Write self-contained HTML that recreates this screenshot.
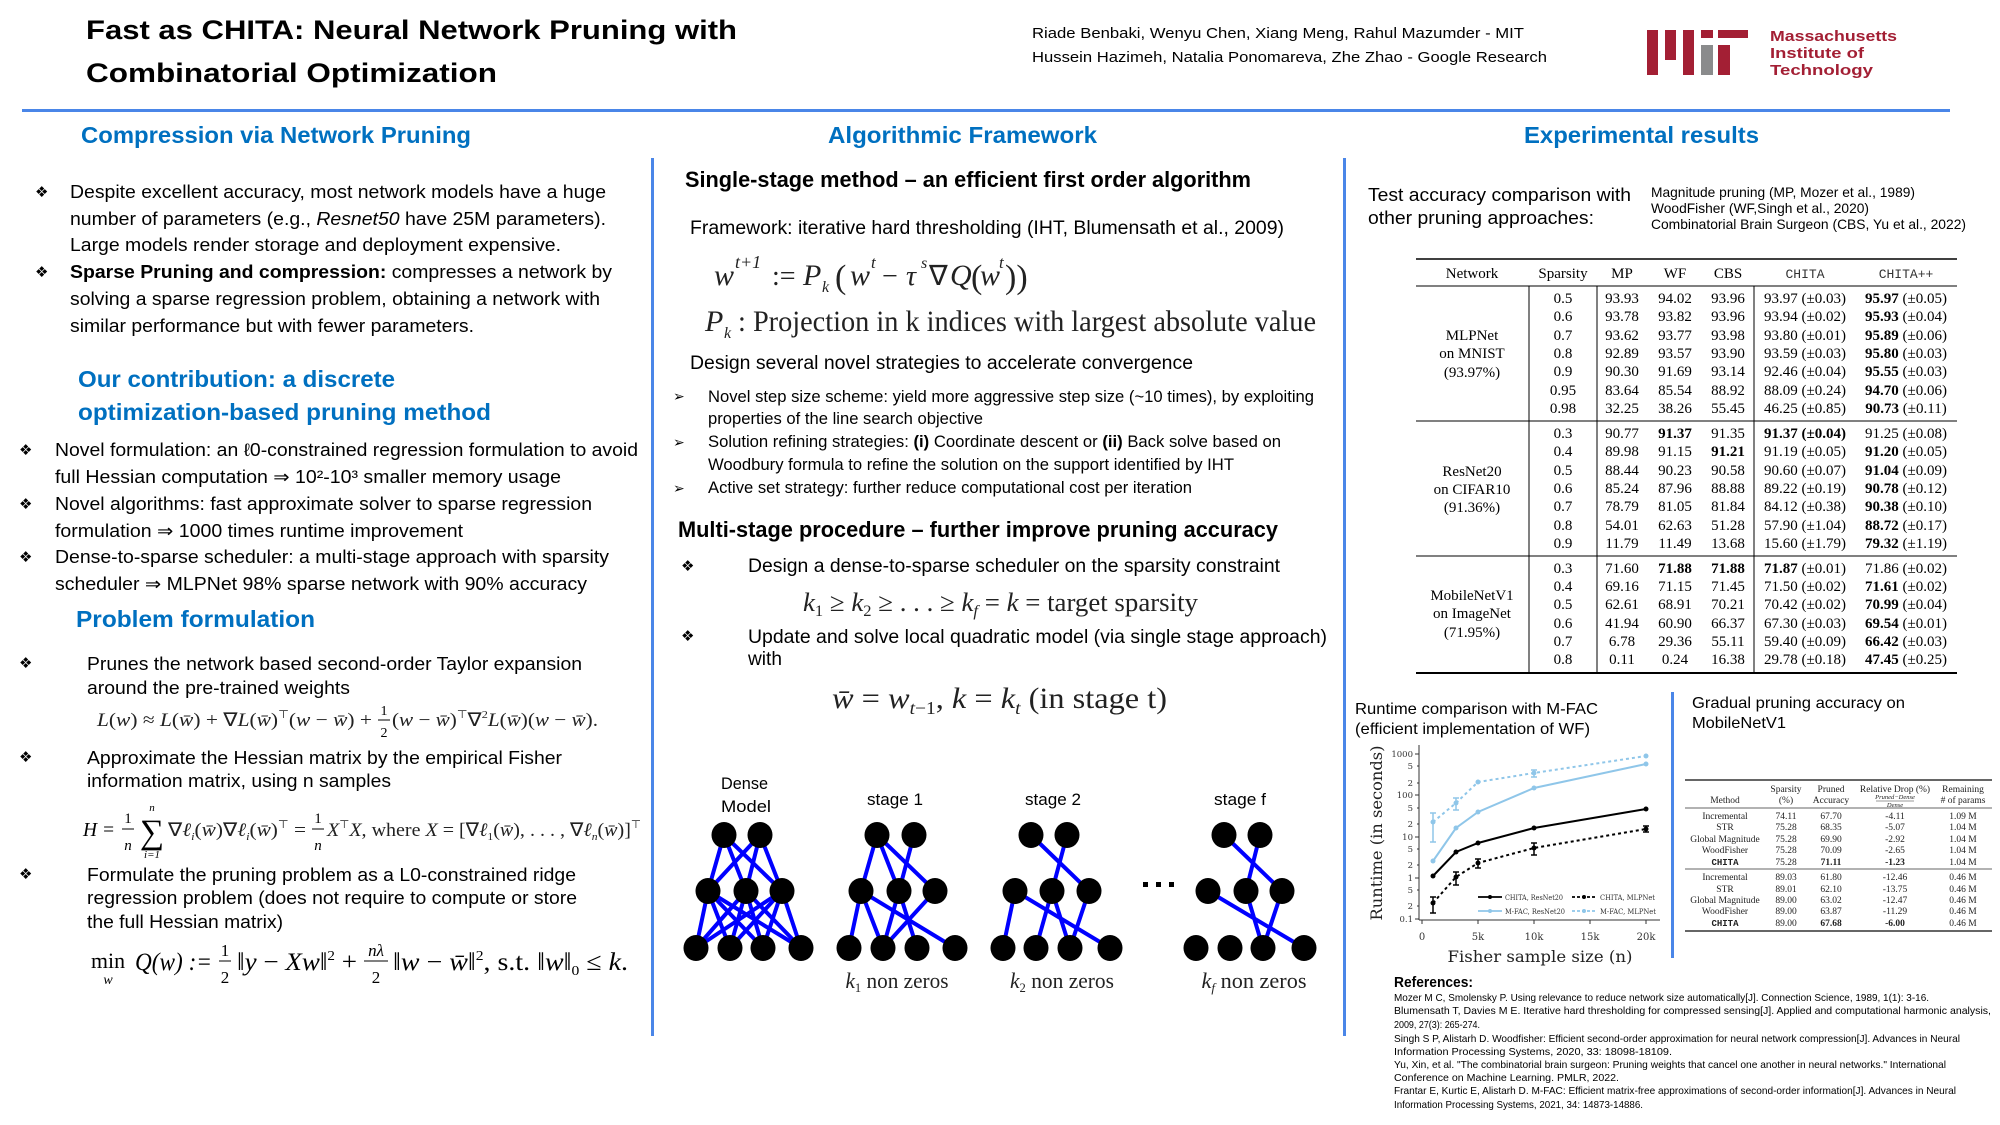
<!DOCTYPE html>
<html><head><meta charset="utf-8"><style>
html,body{margin:0;padding:0;background:#fff;}
svg{display:block}
.s{font-family:"Liberation Sans",sans-serif}
.sb{font-family:"Liberation Sans",sans-serif;font-weight:bold}
.h{font-family:"Liberation Sans",sans-serif;font-weight:bold;fill:#0070c0;font-size:23px}
.r{font-family:"Liberation Serif",serif}
.i{font-family:"Liberation Serif",serif;font-style:italic}
.d{font-family:"DejaVu Sans",sans-serif}
.mono{font-family:"Liberation Mono",monospace}
.ds{font-family:"DejaVu Serif",serif}
</style></head><body>
<svg xmlns="http://www.w3.org/2000/svg" width="2000" height="1125" viewBox="0 0 2000 1125">
<rect width="2000" height="1125" fill="#fff"/>

<!-- Title -->
<text class="sb" x="86" y="39" font-size="27" textLength="651" lengthAdjust="spacingAndGlyphs">Fast as CHITA: Neural Network Pruning with</text>
<text class="sb" x="86" y="82" font-size="27" textLength="411" lengthAdjust="spacingAndGlyphs">Combinatorial Optimization</text>
<text class="s" x="1032" y="38" font-size="15" textLength="492" lengthAdjust="spacingAndGlyphs">Riade Benbaki, Wenyu Chen, Xiang Meng, Rahul Mazumder - MIT</text>
<text class="s" x="1032" y="62" font-size="15" textLength="515" lengthAdjust="spacingAndGlyphs">Hussein Hazimeh, Natalia Ponomareva, Zhe Zhao - Google Research</text>

<!-- MIT logo -->
<g fill="#a31f34">
<rect x="1647" y="30" width="11" height="45"/>
<rect x="1665" y="30" width="11" height="30"/>
<rect x="1683" y="30" width="11" height="45"/>
<rect x="1701" y="30" width="12" height="8"/>
<rect x="1718" y="30" width="30" height="8"/>
<rect x="1718" y="45" width="12" height="30"/>
</g>
<rect x="1701" y="45" width="12" height="30" fill="#8a8b8c"/>
<text x="1770" y="41" font-family="Liberation Sans, Arial, sans-serif" font-weight="bold" font-size="15" fill="#a31f34" textLength="127" lengthAdjust="spacingAndGlyphs">Massachusetts</text>
<text x="1770" y="58" font-family="Liberation Sans, Arial, sans-serif" font-weight="bold" font-size="15" fill="#a31f34" textLength="94" lengthAdjust="spacingAndGlyphs">Institute of</text>
<text x="1770" y="75" font-family="Liberation Sans, Arial, sans-serif" font-weight="bold" font-size="15" fill="#a31f34" textLength="103" lengthAdjust="spacingAndGlyphs">Technology</text>

<!-- rules -->
<rect x="22" y="109" width="1928" height="3" fill="#4a86e8"/>
<rect x="651" y="158" width="3" height="878" fill="#4a86e8"/>
<rect x="1343" y="158" width="3" height="878" fill="#4a86e8"/>
<rect x="1671" y="692" width="3" height="266" fill="#4a86e8"/>

<!-- Section headings -->
<text class="h" x="81" y="143" textLength="390" lengthAdjust="spacingAndGlyphs">Compression via Network Pruning</text>
<text class="h" x="828" y="143" textLength="269" lengthAdjust="spacingAndGlyphs">Algorithmic Framework</text>
<text class="h" x="1524" y="143" textLength="235" lengthAdjust="spacingAndGlyphs">Experimental results</text>

<!-- LEFT COLUMN -->
<g class="d" font-size="15">
<text x="35" y="197">❖</text>
<text x="35" y="277">❖</text>
<text x="19" y="455">❖</text>
<text x="19" y="509">❖</text>
<text x="19" y="562">❖</text>
<text x="19" y="668">❖</text>
<text x="19" y="762">❖</text>
<text x="19" y="879">❖</text>
</g>
<g class="s" font-size="18">
<text x="70" y="198" textLength="536" lengthAdjust="spacingAndGlyphs">Despite excellent accuracy, most network models have a huge</text>
<text x="70" y="225" textLength="536" lengthAdjust="spacingAndGlyphs">number of parameters (e.g., <tspan font-style="italic">Resnet50</tspan> have 25M parameters).</text>
<text x="70" y="251" textLength="491" lengthAdjust="spacingAndGlyphs">Large models render storage and deployment expensive.</text>
<text x="70" y="278" textLength="542" lengthAdjust="spacingAndGlyphs"><tspan font-weight="bold">Sparse Pruning and compression:</tspan> compresses a network by</text>
<text x="70" y="305" textLength="530" lengthAdjust="spacingAndGlyphs">solving a sparse regression problem, obtaining a network with</text>
<text x="70" y="332" textLength="404" lengthAdjust="spacingAndGlyphs">similar performance but with fewer parameters.</text>
</g>
<text class="h" x="78" y="387" font-size="25" textLength="317" lengthAdjust="spacingAndGlyphs">Our contribution: a discrete</text>
<text class="h" x="78" y="420" font-size="25" textLength="413" lengthAdjust="spacingAndGlyphs">optimization-based pruning method</text>
<g class="s" font-size="18">
<text x="55" y="456" textLength="583" lengthAdjust="spacingAndGlyphs">Novel formulation: an ℓ0-constrained regression formulation to avoid</text>
<text x="55" y="483" textLength="506" lengthAdjust="spacingAndGlyphs">full Hessian computation ⇒ 10²-10³ smaller memory usage</text>
<text x="55" y="510" textLength="537" lengthAdjust="spacingAndGlyphs">Novel algorithms: fast approximate solver to sparse regression</text>
<text x="55" y="537" textLength="408" lengthAdjust="spacingAndGlyphs">formulation ⇒ 1000 times runtime improvement</text>
<text x="55" y="563" textLength="554" lengthAdjust="spacingAndGlyphs">Dense-to-sparse scheduler: a multi-stage approach with sparsity</text>
<text x="55" y="590" textLength="532" lengthAdjust="spacingAndGlyphs">scheduler ⇒ MLPNet 98% sparse network with 90% accuracy</text>
</g>
<text class="h" x="76" y="627" font-size="25" textLength="239" lengthAdjust="spacingAndGlyphs">Problem formulation</text>
<g class="s" font-size="18">
<text x="87" y="670" textLength="495" lengthAdjust="spacingAndGlyphs">Prunes the network based second-order Taylor expansion</text>
<text x="87" y="694" textLength="263" lengthAdjust="spacingAndGlyphs">around the pre-trained weights</text>
<text x="87" y="764" textLength="475" lengthAdjust="spacingAndGlyphs">Approximate the Hessian matrix by the empirical Fisher</text>
<text x="87" y="787" textLength="304" lengthAdjust="spacingAndGlyphs">information matrix, using n samples</text>
<text x="87" y="881" textLength="489" lengthAdjust="spacingAndGlyphs">Formulate the pruning problem as a L0-constrained ridge</text>
<text x="87" y="904" textLength="490" lengthAdjust="spacingAndGlyphs">regression problem (does not require to compute or store</text>
<text x="87" y="928" textLength="196" lengthAdjust="spacingAndGlyphs">the full Hessian matrix)</text>
</g>

<!-- Formula L -->
<text class="r" x="97" y="726" font-size="19" fill="#222" textLength="275" lengthAdjust="spacingAndGlyphs"><tspan class="i">L</tspan>(<tspan class="i">w</tspan>) ≈ <tspan class="i">L</tspan>(<tspan class="i">w̄</tspan>) + ∇<tspan class="i">L</tspan>(<tspan class="i">w̄</tspan>)<tspan dy="-8" font-size="11">⊤</tspan><tspan dy="8">(</tspan><tspan class="i">w</tspan> − <tspan class="i">w̄</tspan>) +</text>
<text class="r" x="384" y="715" font-size="14" text-anchor="middle">1</text>
<line x1="378" y1="720" x2="390" y2="720" stroke="#000" stroke-width="1"/>
<text class="r" x="384" y="737" font-size="14" text-anchor="middle">2</text>
<text class="r" x="392" y="726" font-size="19" fill="#222" textLength="206" lengthAdjust="spacingAndGlyphs">(<tspan class="i">w</tspan> − <tspan class="i">w̄</tspan>)<tspan dy="-8" font-size="11">⊤</tspan><tspan dy="8">∇</tspan><tspan dy="-8" font-size="11">2</tspan><tspan dy="8" class="i">L</tspan>(<tspan class="i">w̄</tspan>)(<tspan class="i">w</tspan> − <tspan class="i">w̄</tspan>).</text>

<!-- Formula H -->
<text class="i" x="83" y="836" font-size="20" textLength="32" lengthAdjust="spacingAndGlyphs">H <tspan class="r">=</tspan></text>
<text class="r" x="128" y="823" font-size="15" text-anchor="middle">1</text>
<line x1="122" y1="829" x2="134" y2="829" stroke="#000" stroke-width="1"/>
<text class="i" x="128" y="850" font-size="15" text-anchor="middle">n</text>
<text class="r" x="152" y="843" font-size="34" text-anchor="middle">∑</text>
<text class="i" x="152" y="811" font-size="11" text-anchor="middle">n</text>
<text class="i" x="152" y="858" font-size="11" text-anchor="middle">i<tspan class="r">=1</tspan></text>
<text class="r" x="168" y="836" font-size="19" fill="#222" textLength="138" lengthAdjust="spacingAndGlyphs">∇<tspan class="i">ℓ</tspan><tspan class="i" font-size="11" dy="4">i</tspan><tspan dy="-4">(</tspan><tspan class="i">w̄</tspan>)∇<tspan class="i">ℓ</tspan><tspan class="i" font-size="11" dy="4">i</tspan><tspan dy="-4">(</tspan><tspan class="i">w̄</tspan>)<tspan dy="-8" font-size="11">⊤</tspan><tspan dy="8"> =</tspan></text>
<text class="r" x="318" y="823" font-size="15" text-anchor="middle">1</text>
<line x1="312" y1="829" x2="324" y2="829" stroke="#000" stroke-width="1"/>
<text class="i" x="318" y="850" font-size="15" text-anchor="middle">n</text>
<text class="r" x="327" y="836" font-size="19" fill="#222" textLength="314" lengthAdjust="spacingAndGlyphs"><tspan class="i">X</tspan><tspan dy="-8" font-size="11">⊤</tspan><tspan dy="8" class="i">X</tspan>, where <tspan class="i">X</tspan> = [∇<tspan class="i">ℓ</tspan><tspan font-size="11" dy="4">1</tspan><tspan dy="-4">(</tspan><tspan class="i">w̄</tspan>), . . . , ∇<tspan class="i">ℓ</tspan><tspan class="i" font-size="11" dy="4">n</tspan><tspan dy="-4">(</tspan><tspan class="i">w̄</tspan>)]<tspan dy="-8" font-size="11">⊤</tspan></text>

<!-- Formula min -->
<text class="r" x="91" y="968" font-size="22" textLength="34" lengthAdjust="spacingAndGlyphs">min</text>
<text class="i" x="108" y="984" font-size="14" text-anchor="middle">w</text>
<text class="i" x="135" y="970" font-size="25" textLength="77" lengthAdjust="spacingAndGlyphs">Q<tspan class="r">(</tspan>w<tspan class="r">) :=</tspan></text>
<text class="r" x="225" y="956" font-size="17" text-anchor="middle">1</text>
<line x1="219" y1="961" x2="231" y2="961" stroke="#000" stroke-width="1"/>
<text class="r" x="225" y="983" font-size="17" text-anchor="middle">2</text>
<text class="r" x="237" y="970" font-size="25" textLength="120" lengthAdjust="spacingAndGlyphs">‖<tspan class="i">y</tspan> − <tspan class="i">Xw</tspan>‖<tspan dy="-10" font-size="14">2</tspan><tspan dy="10"> +</tspan></text>
<text class="i" x="376" y="956" font-size="17" text-anchor="middle">nλ</text>
<line x1="364" y1="961" x2="388" y2="961" stroke="#000" stroke-width="1"/>
<text class="r" x="376" y="983" font-size="17" text-anchor="middle">2</text>
<text class="r" x="393" y="970" font-size="25" textLength="235" lengthAdjust="spacingAndGlyphs">‖<tspan class="i">w</tspan> − <tspan class="i">w̄</tspan>‖<tspan dy="-10" font-size="14">2</tspan><tspan dy="10">,  s.t.  ‖</tspan><tspan class="i">w</tspan>‖<tspan dy="5" font-size="14">0</tspan><tspan dy="-5"> ≤ </tspan><tspan class="i">k</tspan>.</text>

<!-- MIDDLE COLUMN -->
<text class="sb" x="685" y="187" font-size="22" textLength="566" lengthAdjust="spacingAndGlyphs">Single-stage method – an efficient first order algorithm</text>
<text class="s" x="690" y="234" font-size="19" textLength="594" lengthAdjust="spacingAndGlyphs">Framework: iterative hard thresholding (IHT, Blumensath et al., 2009)</text>

<!-- formula A -->
<g fill="#222">
<text class="i" x="714" y="285" font-size="30">w</text>
<text class="i" x="735" y="268" font-size="18">t<tspan class="r">+1</tspan></text>
<text class="r" x="772" y="285" font-size="28">:=</text>
<text class="i" x="803" y="285" font-size="30">P</text>
<text class="i" x="822" y="292" font-size="16">k</text>
<text class="r" x="835" y="288" font-size="34">(</text>
<text class="i" x="850" y="285" font-size="30">w</text>
<text class="i" x="871" y="268" font-size="17">t</text>
<text class="r" x="882" y="285" font-size="28">−</text>
<text class="i" x="906" y="285" font-size="28">τ</text>
<text class="i" x="921" y="268" font-size="16">s</text>
<text class="r" x="929" y="285" font-size="28">∇</text>
<text class="i" x="950" y="285" font-size="30">Q</text>
<text class="r" x="971" y="288" font-size="34">(</text>
<text class="i" x="980" y="285" font-size="30">w</text>
<text class="i" x="999" y="268" font-size="17">t</text>
<text class="r" x="1005" y="288" font-size="34">))</text>
</g>

<!-- formula B -->
<text class="i" x="705" y="331" font-size="30" fill="#222">P</text>
<text class="i" x="724" y="338" font-size="16" fill="#222">k</text>
<text class="r" x="738" y="331" font-size="30" fill="#222" textLength="578" lengthAdjust="spacingAndGlyphs">: Projection in k indices with largest absolute value</text>

<text class="s" x="690" y="369" font-size="19" textLength="503" lengthAdjust="spacingAndGlyphs">Design several novel strategies to accelerate convergence</text>
<g class="d" font-size="14">
<text x="673" y="401">➢</text>
<text x="673" y="447">➢</text>
<text x="673" y="493">➢</text>
</g>
<g class="s" font-size="17">
<text x="708" y="402" textLength="606" lengthAdjust="spacingAndGlyphs">Novel step size scheme: yield more aggressive step size (~10 times), by exploiting</text>
<text x="708" y="424" textLength="275" lengthAdjust="spacingAndGlyphs">properties of the line search objective</text>
<text x="708" y="447" textLength="573" lengthAdjust="spacingAndGlyphs">Solution refining strategies: <tspan font-weight="bold">(i)</tspan> Coordinate descent or <tspan font-weight="bold">(ii)</tspan> Back solve based on</text>
<text x="708" y="470" textLength="526" lengthAdjust="spacingAndGlyphs">Woodbury formula to refine the solution on the support identified by IHT</text>
<text x="708" y="493" textLength="484" lengthAdjust="spacingAndGlyphs">Active set strategy: further reduce computational cost per iteration</text>
</g>
<text class="sb" x="678" y="537" font-size="22" textLength="600" lengthAdjust="spacingAndGlyphs">Multi-stage procedure – further improve pruning accuracy</text>
<g class="d" font-size="15">
<text x="681" y="571">❖</text>
<text x="681" y="641">❖</text>
</g>
<text class="s" x="748" y="572" font-size="19" textLength="532" lengthAdjust="spacingAndGlyphs">Design a dense-to-sparse scheduler on the sparsity constraint</text>
<text class="r" x="803" y="611" font-size="26" fill="#222" textLength="395" lengthAdjust="spacingAndGlyphs"><tspan class="i">k</tspan><tspan font-size="16" dy="5">1</tspan><tspan dy="-5"> ≥ </tspan><tspan class="i">k</tspan><tspan font-size="16" dy="5">2</tspan><tspan dy="-5"> ≥ . . . ≥ </tspan><tspan class="i">k</tspan><tspan class="i" font-size="16" dy="5">f</tspan><tspan dy="-5"> = </tspan><tspan class="i">k</tspan> = target sparsity</text>
<text class="s" x="748" y="643" font-size="19" textLength="579" lengthAdjust="spacingAndGlyphs">Update and solve local quadratic model (via single stage approach)</text>
<text class="s" x="748" y="665" font-size="19" textLength="34" lengthAdjust="spacingAndGlyphs">with</text>
<text class="r" x="832" y="708" font-size="30" fill="#222" textLength="335" lengthAdjust="spacingAndGlyphs"><tspan class="i">w̄</tspan> = <tspan class="i">w</tspan><tspan class="i" font-size="18" dy="6">t</tspan><tspan font-size="18">−1</tspan><tspan dy="-6">, </tspan><tspan class="i">k</tspan> = <tspan class="i">k</tspan><tspan class="i" font-size="18" dy="6">t</tspan><tspan dy="-6"> (in stage t)</tspan></text>

<!-- Network diagram -->
<g class="s" font-size="17">
<text x="721" y="789" textLength="47" lengthAdjust="spacingAndGlyphs">Dense</text>
<text x="721" y="812" textLength="50" lengthAdjust="spacingAndGlyphs">Model</text>
<text x="895" y="805" text-anchor="middle" textLength="56" lengthAdjust="spacingAndGlyphs">stage 1</text>
<text x="1053" y="805" text-anchor="middle" textLength="56" lengthAdjust="spacingAndGlyphs">stage 2</text>
<text x="1240" y="805" text-anchor="middle" textLength="52" lengthAdjust="spacingAndGlyphs">stage f</text>
</g>
<g stroke="#0000ff" stroke-width="4" stroke-linecap="round">
<line x1="724" y1="835" x2="708" y2="891"/><line x1="724" y1="835" x2="746" y2="891"/><line x1="724" y1="835" x2="782" y2="891"/>
<line x1="760" y1="835" x2="708" y2="891"/><line x1="760" y1="835" x2="746" y2="891"/><line x1="760" y1="835" x2="782" y2="891"/>
<line x1="708" y1="891" x2="696" y2="948"/><line x1="708" y1="891" x2="730" y2="948"/><line x1="708" y1="891" x2="763" y2="948"/><line x1="708" y1="891" x2="801" y2="948"/>
<line x1="746" y1="891" x2="696" y2="948"/><line x1="746" y1="891" x2="730" y2="948"/><line x1="746" y1="891" x2="763" y2="948"/><line x1="746" y1="891" x2="801" y2="948"/>
<line x1="782" y1="891" x2="696" y2="948"/><line x1="782" y1="891" x2="730" y2="948"/><line x1="782" y1="891" x2="763" y2="948"/><line x1="782" y1="891" x2="801" y2="948"/>
<line x1="877" y1="835" x2="861" y2="891"/><line x1="877" y1="835" x2="899" y2="891"/><line x1="877" y1="835" x2="935" y2="891"/><line x1="914" y1="835" x2="899" y2="891"/>
<line x1="861" y1="891" x2="849" y2="948"/><line x1="861" y1="891" x2="883" y2="948"/><line x1="861" y1="891" x2="955" y2="948"/>
<line x1="899" y1="891" x2="883" y2="948"/><line x1="899" y1="891" x2="917" y2="948"/><line x1="935" y1="891" x2="883" y2="948"/>
<line x1="1031" y1="835" x2="1089" y2="891"/><line x1="1067" y1="835" x2="1052" y2="891"/>
<line x1="1015" y1="891" x2="1003" y2="948"/><line x1="1015" y1="891" x2="1110" y2="948"/>
<line x1="1052" y1="891" x2="1036" y2="948"/><line x1="1052" y1="891" x2="1070" y2="948"/><line x1="1089" y1="891" x2="1070" y2="948"/>
<line x1="1224" y1="835" x2="1282" y2="891"/><line x1="1260" y1="835" x2="1246" y2="891"/>
<line x1="1208" y1="891" x2="1304" y2="948"/><line x1="1246" y1="891" x2="1263" y2="948"/><line x1="1282" y1="891" x2="1263" y2="948"/>
</g>
<g fill="#000">
<ellipse cx="724" cy="835" rx="12.5" ry="13"/><ellipse cx="760" cy="835" rx="12.5" ry="13"/>
<ellipse cx="708" cy="891" rx="12.5" ry="13"/><ellipse cx="746" cy="891" rx="12.5" ry="13"/><ellipse cx="782" cy="891" rx="12.5" ry="13"/>
<ellipse cx="696" cy="948" rx="12.5" ry="13"/><ellipse cx="730" cy="948" rx="12.5" ry="13"/><ellipse cx="763" cy="948" rx="12.5" ry="13"/><ellipse cx="801" cy="948" rx="12.5" ry="13"/>

<ellipse cx="877" cy="835" rx="12.5" ry="13"/><ellipse cx="914" cy="835" rx="12.5" ry="13"/>
<ellipse cx="861" cy="891" rx="12.5" ry="13"/><ellipse cx="899" cy="891" rx="12.5" ry="13"/><ellipse cx="935" cy="891" rx="12.5" ry="13"/>
<ellipse cx="849" cy="948" rx="12.5" ry="13"/><ellipse cx="883" cy="948" rx="12.5" ry="13"/><ellipse cx="917" cy="948" rx="12.5" ry="13"/><ellipse cx="955" cy="948" rx="12.5" ry="13"/>

<ellipse cx="1031" cy="835" rx="12.5" ry="13"/><ellipse cx="1067" cy="835" rx="12.5" ry="13"/>
<ellipse cx="1015" cy="891" rx="12.5" ry="13"/><ellipse cx="1052" cy="891" rx="12.5" ry="13"/><ellipse cx="1089" cy="891" rx="12.5" ry="13"/>
<ellipse cx="1003" cy="948" rx="12.5" ry="13"/><ellipse cx="1036" cy="948" rx="12.5" ry="13"/><ellipse cx="1070" cy="948" rx="12.5" ry="13"/><ellipse cx="1110" cy="948" rx="12.5" ry="13"/>

<ellipse cx="1224" cy="835" rx="12.5" ry="13"/><ellipse cx="1260" cy="835" rx="12.5" ry="13"/>
<ellipse cx="1208" cy="891" rx="12.5" ry="13"/><ellipse cx="1246" cy="891" rx="12.5" ry="13"/><ellipse cx="1282" cy="891" rx="12.5" ry="13"/>
<ellipse cx="1196" cy="948" rx="12.5" ry="13"/><ellipse cx="1230" cy="948" rx="12.5" ry="13"/><ellipse cx="1263" cy="948" rx="12.5" ry="13"/><ellipse cx="1304" cy="948" rx="12.5" ry="13"/>

<rect x="1143" y="882" width="5" height="5"/><rect x="1156" y="882" width="5" height="5"/><rect x="1169" y="882" width="5" height="5"/>
</g>
<g class="r" font-size="22" fill="#222">
<text x="897" y="988" text-anchor="middle" textLength="103" lengthAdjust="spacingAndGlyphs"><tspan class="i">k</tspan><tspan font-size="13" dy="4">1</tspan><tspan dy="-4"> non zeros</tspan></text>
<text x="1062" y="988" text-anchor="middle" textLength="104" lengthAdjust="spacingAndGlyphs"><tspan class="i">k</tspan><tspan font-size="13" dy="4">2</tspan><tspan dy="-4"> non zeros</tspan></text>
<text x="1254" y="988" text-anchor="middle" textLength="105" lengthAdjust="spacingAndGlyphs"><tspan class="i">k</tspan><tspan class="i" font-size="13" dy="4">f</tspan><tspan dy="-4"> non zeros</tspan></text>
</g>

<!-- RIGHT COLUMN -->
<text class="s" x="1368" y="201" font-size="18" textLength="263" lengthAdjust="spacingAndGlyphs">Test accuracy comparison with</text>
<text class="s" x="1368" y="224" font-size="18" textLength="226" lengthAdjust="spacingAndGlyphs">other pruning approaches:</text>
<g class="s" font-size="14">
<text x="1651" y="197" textLength="264" lengthAdjust="spacingAndGlyphs">Magnitude pruning (MP, Mozer et al., 1989)</text>
<text x="1651" y="213" textLength="218" lengthAdjust="spacingAndGlyphs">WoodFisher (WF,Singh et al., 2020)</text>
<text x="1651" y="229" textLength="315" lengthAdjust="spacingAndGlyphs">Combinatorial Brain Surgeon (CBS, Yu et al., 2022)</text>
</g>

<!-- Big table -->
<g stroke="#000">
<line x1="1416" y1="259" x2="1957" y2="259" stroke-width="1.6"/>
<line x1="1416" y1="286" x2="1957" y2="286" stroke-width="1"/>
<line x1="1416" y1="421" x2="1957" y2="421" stroke-width="1"/>
<line x1="1416" y1="556" x2="1957" y2="556" stroke-width="1"/>
<line x1="1416" y1="673" x2="1957" y2="673" stroke-width="2"/>
<line x1="1529" y1="286" x2="1529" y2="673" stroke-width="1"/>
<line x1="1597" y1="286" x2="1597" y2="673" stroke-width="1"/>
<line x1="1754" y1="286" x2="1754" y2="673" stroke-width="1"/>
</g>
<g class="r" font-size="15" text-anchor="middle">
<text x="1472" y="278">Network</text>
<text x="1563" y="278">Sparsity</text>
<text x="1622" y="278">MP</text>
<text x="1675" y="278">WF</text>
<text x="1728" y="278">CBS</text>
<text x="1805" y="278" class="mono" font-size="13" fill="#333">CHITA</text>
<text x="1906" y="278" class="mono" font-size="13" fill="#333">CHITA++</text>

<text x="1472" y="340">MLPNet</text>
<text x="1472" y="358">on MNIST</text>
<text x="1472" y="377">(93.97%)</text>
<text x="1472" y="476">ResNet20</text>
<text x="1472" y="494">on CIFAR10</text>
<text x="1472" y="512">(91.36%)</text>
<text x="1472" y="600">MobileNetV1</text>
<text x="1472" y="618">on ImageNet</text>
<text x="1472" y="637">(71.95%)</text>

<text x="1563" y="303">0.5</text><text x="1622" y="303">93.93</text><text x="1675" y="303">94.02</text><text x="1728" y="303">93.96</text><text x="1805" y="303">93.97 (±0.03)</text><text x="1906" y="303"><tspan font-weight="bold">95.97</tspan> (±0.05)</text>
<text x="1563" y="321">0.6</text><text x="1622" y="321">93.78</text><text x="1675" y="321">93.82</text><text x="1728" y="321">93.96</text><text x="1805" y="321">93.94 (±0.02)</text><text x="1906" y="321"><tspan font-weight="bold">95.93</tspan> (±0.04)</text>
<text x="1563" y="340">0.7</text><text x="1622" y="340">93.62</text><text x="1675" y="340">93.77</text><text x="1728" y="340">93.98</text><text x="1805" y="340">93.80 (±0.01)</text><text x="1906" y="340"><tspan font-weight="bold">95.89</tspan> (±0.06)</text>
<text x="1563" y="358">0.8</text><text x="1622" y="358">92.89</text><text x="1675" y="358">93.57</text><text x="1728" y="358">93.90</text><text x="1805" y="358">93.59 (±0.03)</text><text x="1906" y="358"><tspan font-weight="bold">95.80</tspan> (±0.03)</text>
<text x="1563" y="376">0.9</text><text x="1622" y="376">90.30</text><text x="1675" y="376">91.69</text><text x="1728" y="376">93.14</text><text x="1805" y="376">92.46 (±0.04)</text><text x="1906" y="376"><tspan font-weight="bold">95.55</tspan> (±0.03)</text>
<text x="1563" y="395">0.95</text><text x="1622" y="395">83.64</text><text x="1675" y="395">85.54</text><text x="1728" y="395">88.92</text><text x="1805" y="395">88.09 (±0.24)</text><text x="1906" y="395"><tspan font-weight="bold">94.70</tspan> (±0.06)</text>
<text x="1563" y="413">0.98</text><text x="1622" y="413">32.25</text><text x="1675" y="413">38.26</text><text x="1728" y="413">55.45</text><text x="1805" y="413">46.25 (±0.85)</text><text x="1906" y="413"><tspan font-weight="bold">90.73</tspan> (±0.11)</text>

<text x="1563" y="438">0.3</text><text x="1622" y="438">90.77</text><text x="1675" y="438" font-weight="bold">91.37</text><text x="1728" y="438">91.35</text><text x="1805" y="438" font-weight="bold">91.37 (±0.04)</text><text x="1906" y="438">91.25 (±0.08)</text>
<text x="1563" y="456">0.4</text><text x="1622" y="456">89.98</text><text x="1675" y="456">91.15</text><text x="1728" y="456" font-weight="bold">91.21</text><text x="1805" y="456">91.19 (±0.05)</text><text x="1906" y="456"><tspan font-weight="bold">91.20</tspan> (±0.05)</text>
<text x="1563" y="475">0.5</text><text x="1622" y="475">88.44</text><text x="1675" y="475">90.23</text><text x="1728" y="475">90.58</text><text x="1805" y="475">90.60 (±0.07)</text><text x="1906" y="475"><tspan font-weight="bold">91.04</tspan> (±0.09)</text>
<text x="1563" y="493">0.6</text><text x="1622" y="493">85.24</text><text x="1675" y="493">87.96</text><text x="1728" y="493">88.88</text><text x="1805" y="493">89.22 (±0.19)</text><text x="1906" y="493"><tspan font-weight="bold">90.78</tspan> (±0.12)</text>
<text x="1563" y="511">0.7</text><text x="1622" y="511">78.79</text><text x="1675" y="511">81.05</text><text x="1728" y="511">81.84</text><text x="1805" y="511">84.12 (±0.38)</text><text x="1906" y="511"><tspan font-weight="bold">90.38</tspan> (±0.10)</text>
<text x="1563" y="530">0.8</text><text x="1622" y="530">54.01</text><text x="1675" y="530">62.63</text><text x="1728" y="530">51.28</text><text x="1805" y="530">57.90 (±1.04)</text><text x="1906" y="530"><tspan font-weight="bold">88.72</tspan> (±0.17)</text>
<text x="1563" y="548">0.9</text><text x="1622" y="548">11.79</text><text x="1675" y="548">11.49</text><text x="1728" y="548">13.68</text><text x="1805" y="548">15.60 (±1.79)</text><text x="1906" y="548"><tspan font-weight="bold">79.32</tspan> (±1.19)</text>

<text x="1563" y="573">0.3</text><text x="1622" y="573">71.60</text><text x="1675" y="573" font-weight="bold">71.88</text><text x="1728" y="573" font-weight="bold">71.88</text><text x="1805" y="573"><tspan font-weight="bold">71.87</tspan> (±0.01)</text><text x="1906" y="573">71.86 (±0.02)</text>
<text x="1563" y="591">0.4</text><text x="1622" y="591">69.16</text><text x="1675" y="591">71.15</text><text x="1728" y="591">71.45</text><text x="1805" y="591">71.50 (±0.02)</text><text x="1906" y="591"><tspan font-weight="bold">71.61</tspan> (±0.02)</text>
<text x="1563" y="609">0.5</text><text x="1622" y="609">62.61</text><text x="1675" y="609">68.91</text><text x="1728" y="609">70.21</text><text x="1805" y="609">70.42 (±0.02)</text><text x="1906" y="609"><tspan font-weight="bold">70.99</tspan> (±0.04)</text>
<text x="1563" y="628">0.6</text><text x="1622" y="628">41.94</text><text x="1675" y="628">60.90</text><text x="1728" y="628">66.37</text><text x="1805" y="628">67.30 (±0.03)</text><text x="1906" y="628"><tspan font-weight="bold">69.54</tspan> (±0.01)</text>
<text x="1563" y="646">0.7</text><text x="1622" y="646">6.78</text><text x="1675" y="646">29.36</text><text x="1728" y="646">55.11</text><text x="1805" y="646">59.40 (±0.09)</text><text x="1906" y="646"><tspan font-weight="bold">66.42</tspan> (±0.03)</text>
<text x="1563" y="664">0.8</text><text x="1622" y="664">0.11</text><text x="1675" y="664">0.24</text><text x="1728" y="664">16.38</text><text x="1805" y="664">29.78 (±0.18)</text><text x="1906" y="664"><tspan font-weight="bold">47.45</tspan> (±0.25)</text>
</g>

<!-- Runtime chart -->
<text class="s" x="1355" y="714" font-size="16" textLength="243" lengthAdjust="spacingAndGlyphs">Runtime comparison with M-FAC</text>
<text class="s" x="1355" y="734" font-size="16" textLength="235" lengthAdjust="spacingAndGlyphs">(efficient implementation of WF)</text>
<g stroke="#333" stroke-width="1" fill="none">
<line x1="1419" y1="745" x2="1419" y2="920"/>
<line x1="1419" y1="920" x2="1660" y2="920"/>
<line x1="1422" y1="920" x2="1422" y2="924"/><line x1="1478" y1="920" x2="1478" y2="924"/><line x1="1534" y1="920" x2="1534" y2="924"/><line x1="1590" y1="920" x2="1590" y2="924"/><line x1="1646" y1="920" x2="1646" y2="924"/>
<line x1="1415" y1="754" x2="1419" y2="754"/><line x1="1415" y1="795" x2="1419" y2="795"/><line x1="1415" y1="837" x2="1419" y2="837"/><line x1="1415" y1="878" x2="1419" y2="878"/><line x1="1415" y1="919" x2="1419" y2="919"/>
<line x1="1417" y1="766" x2="1419" y2="766"/><line x1="1417" y1="783" x2="1419" y2="783"/><line x1="1417" y1="808" x2="1419" y2="808"/><line x1="1417" y1="824" x2="1419" y2="824"/><line x1="1417" y1="849" x2="1419" y2="849"/><line x1="1417" y1="865" x2="1419" y2="865"/><line x1="1417" y1="890" x2="1419" y2="890"/><line x1="1417" y1="906" x2="1419" y2="906"/>
</g>
<g class="ds" font-size="10" fill="#333" text-anchor="middle">
<text x="1422" y="940">0</text><text x="1478" y="940">5k</text><text x="1534" y="940">10k</text><text x="1590" y="940">15k</text><text x="1646" y="940">20k</text>
</g>
<g class="ds" font-size="8.5" fill="#333" text-anchor="end">
<text x="1413" y="757">1000</text><text x="1413" y="769">5</text><text x="1413" y="786">2</text><text x="1413" y="798">100</text><text x="1413" y="811">5</text><text x="1413" y="827">2</text><text x="1413" y="840">10</text><text x="1413" y="852">5</text><text x="1413" y="868">2</text><text x="1413" y="881">1</text><text x="1413" y="893">5</text><text x="1413" y="909">2</text><text x="1413" y="922">0.1</text>
</g>
<text class="ds" transform="translate(1382,833) rotate(-90)" font-size="16" text-anchor="middle" fill="#222" textLength="175" lengthAdjust="spacingAndGlyphs">Runtime (in seconds)</text>
<text class="ds" x="1540" y="962" font-size="16" text-anchor="middle" fill="#222" textLength="185" lengthAdjust="spacingAndGlyphs">Fisher sample size (n)</text>

<g fill="none" stroke-width="2">
<polyline points="1433,822 1456,803 1478,782 1534,773 1646,756" stroke="#8fc6e9" stroke-dasharray="3,3"/>
<polyline points="1433,861 1456,828 1478,812 1534,788 1646,764" stroke="#8fc6e9"/>
<polyline points="1433,876 1456,852 1478,843 1534,828 1646,809" stroke="#000"/>
<polyline points="1433,903 1456,877 1478,863 1534,848 1646,829" stroke="#000" stroke-dasharray="3,3"/>
</g>
<g stroke="#8fc6e9" stroke-width="1.5">
<line x1="1433" y1="813" x2="1433" y2="842"/><line x1="1430" y1="813" x2="1436" y2="813"/><line x1="1430" y1="842" x2="1436" y2="842"/>
<line x1="1456" y1="798" x2="1456" y2="810"/><line x1="1453" y1="798" x2="1459" y2="798"/><line x1="1453" y1="810" x2="1459" y2="810"/>
<line x1="1534" y1="770" x2="1534" y2="777"/><line x1="1531" y1="770" x2="1537" y2="770"/><line x1="1531" y1="777" x2="1537" y2="777"/>
</g>
<g stroke="#000" stroke-width="1.5">
<line x1="1433" y1="897" x2="1433" y2="913"/><line x1="1430" y1="897" x2="1436" y2="897"/><line x1="1430" y1="913" x2="1436" y2="913"/>
<line x1="1456" y1="872" x2="1456" y2="885"/><line x1="1453" y1="872" x2="1459" y2="872"/><line x1="1453" y1="885" x2="1459" y2="885"/>
<line x1="1478" y1="859" x2="1478" y2="868"/><line x1="1475" y1="859" x2="1481" y2="859"/><line x1="1475" y1="868" x2="1481" y2="868"/>
<line x1="1534" y1="843" x2="1534" y2="855"/><line x1="1531" y1="843" x2="1537" y2="843"/><line x1="1531" y1="855" x2="1537" y2="855"/>
<line x1="1646" y1="826" x2="1646" y2="832"/><line x1="1643" y1="826" x2="1649" y2="826"/><line x1="1643" y1="832" x2="1649" y2="832"/>
</g>
<g fill="#8fc6e9">
<circle cx="1433" cy="822" r="2.5"/><circle cx="1456" cy="803" r="2.5"/><circle cx="1478" cy="782" r="2.5"/><circle cx="1534" cy="773" r="2.5"/><circle cx="1646" cy="756" r="2.5"/>
<circle cx="1433" cy="861" r="2.5"/><circle cx="1456" cy="828" r="2.5"/><circle cx="1478" cy="812" r="2.5"/><circle cx="1534" cy="788" r="2.5"/><circle cx="1646" cy="764" r="2.5"/>
</g>
<g fill="#000">
<circle cx="1433" cy="876" r="2.5"/><circle cx="1456" cy="852" r="2.5"/><circle cx="1478" cy="843" r="2.5"/><circle cx="1534" cy="828" r="2.5"/><circle cx="1646" cy="809" r="2.5"/>
<circle cx="1433" cy="903" r="2.5"/><circle cx="1456" cy="877" r="2.5"/><circle cx="1478" cy="863" r="2.5"/><circle cx="1534" cy="848" r="2.5"/><circle cx="1646" cy="829" r="2.5"/>
</g>
<line x1="1478" y1="897" x2="1502" y2="897" stroke="#000" stroke-width="1.8"/><circle cx="1490" cy="897" r="2" fill="#000"/>
<line x1="1572" y1="897" x2="1595" y2="897" stroke="#000" stroke-width="1.8" stroke-dasharray="3,2"/><circle cx="1584" cy="897" r="2" fill="#000"/>
<line x1="1478" y1="911" x2="1502" y2="911" stroke="#8fc6e9" stroke-width="1.8"/><circle cx="1490" cy="911" r="2" fill="#8fc6e9"/>
<line x1="1572" y1="911" x2="1595" y2="911" stroke="#8fc6e9" stroke-width="1.8" stroke-dasharray="3,2"/><circle cx="1584" cy="911" r="2" fill="#8fc6e9"/>
<g class="ds" font-size="7.5" fill="#333">
<text x="1505" y="900" textLength="58" lengthAdjust="spacingAndGlyphs">CHITA, ResNet20</text>
<text x="1600" y="900" textLength="55" lengthAdjust="spacingAndGlyphs">CHITA, MLPNet</text>
<text x="1505" y="914" textLength="60" lengthAdjust="spacingAndGlyphs">M-FAC, ResNet20</text>
<text x="1600" y="914" textLength="56" lengthAdjust="spacingAndGlyphs">M-FAC, MLPNet</text>
</g>

<!-- Gradual pruning table -->
<text class="s" x="1692" y="708" font-size="16" textLength="213" lengthAdjust="spacingAndGlyphs">Gradual pruning accuracy on</text>
<text class="s" x="1692" y="728" font-size="16" textLength="94" lengthAdjust="spacingAndGlyphs">MobileNetV1</text>
<g stroke="#333">
<line x1="1685" y1="780" x2="1992" y2="780" stroke-width="1.4"/>
<line x1="1685" y1="808" x2="1992" y2="808" stroke-width="0.8"/>
<line x1="1685" y1="869" x2="1992" y2="869" stroke-width="0.8"/>
<line x1="1685" y1="931" x2="1992" y2="931" stroke-width="1.4"/>
<line x1="1876" y1="801" x2="1914" y2="801" stroke-width="0.6"/>
</g>
<g class="r" font-size="9.5" fill="#222" text-anchor="middle">
<text x="1725" y="803">Method</text>
<text x="1786" y="792">Sparsity</text><text x="1786" y="803">(%)</text>
<text x="1831" y="792">Pruned</text><text x="1831" y="803">Accuracy</text>
<text x="1895" y="792">Relative Drop (%)</text>
<text x="1895" y="799" class="i" font-size="6.5">Pruned−Dense</text>
<text x="1895" y="807" class="i" font-size="6.5">Dense</text>
<text x="1963" y="792">Remaining</text><text x="1963" y="803"># of params</text>

<text x="1725" y="819">Incremental</text><text x="1786" y="819">74.11</text><text x="1831" y="819">67.70</text><text x="1895" y="819">-4.11</text><text x="1963" y="819">1.09 M</text>
<text x="1725" y="830">STR</text><text x="1786" y="830">75.28</text><text x="1831" y="830">68.35</text><text x="1895" y="830">-5.07</text><text x="1963" y="830">1.04 M</text>
<text x="1725" y="842">Global Magnitude</text><text x="1786" y="842">75.28</text><text x="1831" y="842">69.90</text><text x="1895" y="842">-2.92</text><text x="1963" y="842">1.04 M</text>
<text x="1725" y="853">WoodFisher</text><text x="1786" y="853">75.28</text><text x="1831" y="853">70.09</text><text x="1895" y="853">-2.65</text><text x="1963" y="853">1.04 M</text>
<text x="1725" y="865" class="mono" font-weight="bold" font-size="9">CHITA</text><text x="1786" y="865">75.28</text><text x="1831" y="865" font-weight="bold">71.11</text><text x="1895" y="865" font-weight="bold">-1.23</text><text x="1963" y="865">1.04 M</text>

<text x="1725" y="880">Incremental</text><text x="1786" y="880">89.03</text><text x="1831" y="880">61.80</text><text x="1895" y="880">-12.46</text><text x="1963" y="880">0.46 M</text>
<text x="1725" y="892">STR</text><text x="1786" y="892">89.01</text><text x="1831" y="892">62.10</text><text x="1895" y="892">-13.75</text><text x="1963" y="892">0.46 M</text>
<text x="1725" y="903">Global Magnitude</text><text x="1786" y="903">89.00</text><text x="1831" y="903">63.02</text><text x="1895" y="903">-12.47</text><text x="1963" y="903">0.46 M</text>
<text x="1725" y="914">WoodFisher</text><text x="1786" y="914">89.00</text><text x="1831" y="914">63.87</text><text x="1895" y="914">-11.29</text><text x="1963" y="914">0.46 M</text>
<text x="1725" y="926" class="mono" font-weight="bold" font-size="9">CHITA</text><text x="1786" y="926">89.00</text><text x="1831" y="926" font-weight="bold">67.68</text><text x="1895" y="926" font-weight="bold">-6.00</text><text x="1963" y="926">0.46 M</text>
</g>

<!-- References -->
<text class="sb" x="1394" y="987" font-size="15" textLength="79" lengthAdjust="spacingAndGlyphs">References:</text>
<g class="s" font-size="10.5">
<text x="1394" y="1001" textLength="535" lengthAdjust="spacingAndGlyphs">Mozer M C, Smolensky P. Using relevance to reduce network size automatically[J]. Connection Science, 1989, 1(1): 3-16.</text>
<text x="1394" y="1014" textLength="597" lengthAdjust="spacingAndGlyphs">Blumensath T, Davies M E. Iterative hard thresholding for compressed sensing[J]. Applied and computational harmonic analysis,</text>
<text x="1394" y="1028" textLength="86" lengthAdjust="spacingAndGlyphs">2009, 27(3): 265-274.</text>
<text x="1394" y="1042" textLength="566" lengthAdjust="spacingAndGlyphs">Singh S P, Alistarh D. Woodfisher: Efficient second-order approximation for neural network compression[J]. Advances in Neural</text>
<text x="1394" y="1055" textLength="278" lengthAdjust="spacingAndGlyphs">Information Processing Systems, 2020, 33: 18098-18109.</text>
<text x="1394" y="1068" textLength="552" lengthAdjust="spacingAndGlyphs">Yu, Xin, et al. "The combinatorial brain surgeon: Pruning weights that cancel one another in neural networks." International</text>
<text x="1394" y="1081" textLength="225" lengthAdjust="spacingAndGlyphs">Conference on Machine Learning. PMLR, 2022.</text>
<text x="1394" y="1094" textLength="562" lengthAdjust="spacingAndGlyphs">Frantar E, Kurtic E, Alistarh D. M-FAC: Efficient matrix-free approximations of second-order information[J]. Advances in Neural</text>
<text x="1394" y="1108" textLength="249" lengthAdjust="spacingAndGlyphs">Information Processing Systems, 2021, 34: 14873-14886.</text>
</g>
</svg>
</body></html>
